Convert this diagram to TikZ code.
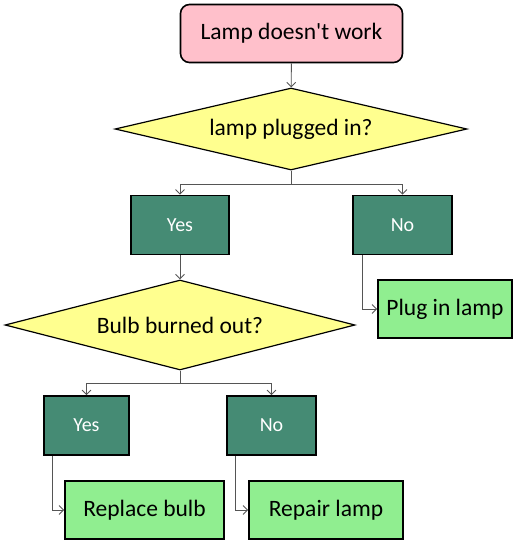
\documentclass[tikz,border=0pt]{standalone}
\usepackage{fontspec}
\setmainfont{Carlito}
\usepackage{tikz}
\usetikzlibrary{positioning,arrows,arrows.meta,shapes.geometric,calc}
\definecolor{colorstart}   {RGB}{255,192,203}
\definecolor{colorquestion}{RGB}{255,255,143}
\definecolor{coloranswer}  {RGB}{ 69,139,116}
\definecolor{coloraction}  {RGB}{144,238,144}
\definecolor{colorline}    {RGB}{ 85, 85, 85}

\begin{document}
\begin{tikzpicture}[
    x=1pt, y=-1pt,
    start/.style={draw=black,line width=1.6pt,fill=colorstart,rounded corners=9pt,
        minimum width=222pt,minimum height=58pt,font={\fontsize{23.5}{28}\selectfont}},
    question/.style={draw=black,line width=1.2pt,fill=colorquestion,diamond,inner sep=0pt,
        font={\fontsize{23.5}{28}\selectfont}},
    answer/.style={draw=black,line width=1.6pt,fill=coloranswer,text=white,
        minimum height=59pt,font={\fontsize{20}{24}\selectfont}},
    action/.style={draw=black,line width=1.6pt,fill=coloraction,
        minimum height=58pt,font={\fontsize{23.5}{28}\selectfont}},
    flow/.style={-{Straight Barb[length=4.5pt,width=9pt]},colorline,line width=0.9pt},
]
    \useasboundingbox (0,0) rectangle (516,544);

    % Start
    \node[start] at (291.5,33.5) (start) {Lamp doesn\textquotesingle t work};

    % First question
    \node[question,minimum width=352pt,minimum height=82pt,aspect=4.3] at (291,129) (plugged) {lamp plugged in?};
    \node[answer,minimum width=98pt] at (180,225) (yes1) {Yes};
    \node[answer,minimum width=99pt] at (402.5,225) (no1) {No};
    \node[action,minimum width=134pt] at (445,309) (plug) {Plug in lamp};

    % Second question
    \node[question,minimum width=350pt,minimum height=90pt,aspect=3.9] at (180,325) (bulb) {Bulb burned out?};
    \node[answer,minimum width=85pt] at (86.5,425.5) (yes2) {Yes};
    \node[answer,minimum width=89pt] at (271.5,425.5) (no2) {No};
    \node[action,minimum width=159pt] at (144.5,510) (replace) {Replace bulb};
    \node[action,minimum width=154pt] at (326,510) (repair) {Repair lamp};

    % Arrows
    \draw[flow] (start) -- (plugged); % start to first question
    \draw[flow] (plugged.south) -- ++(0,14) -| (yes1.north); % plugged in
    \draw[flow] (plugged.south) -- ++(0,14) -| (no1.north); % not plugged in
    \draw[flow] (yes1) -- (bulb); % yes to second question
    \draw[flow] ([xshift=10pt]no1.south west) |- (plug.west); % no to plug in
    \draw[flow] (bulb.south) -- ++(0,13) -| (yes2.north); % burned out
    \draw[flow] (bulb.south) -- ++(0,13) -| (no2.north); % not burned out
    \draw[flow] ([xshift=9pt]yes2.south west) |- (replace.west); % yes to replace
    \draw[flow] ([xshift=9pt]no2.south west) |- (repair.west); % no to repair

\end{tikzpicture}
\end{document}
